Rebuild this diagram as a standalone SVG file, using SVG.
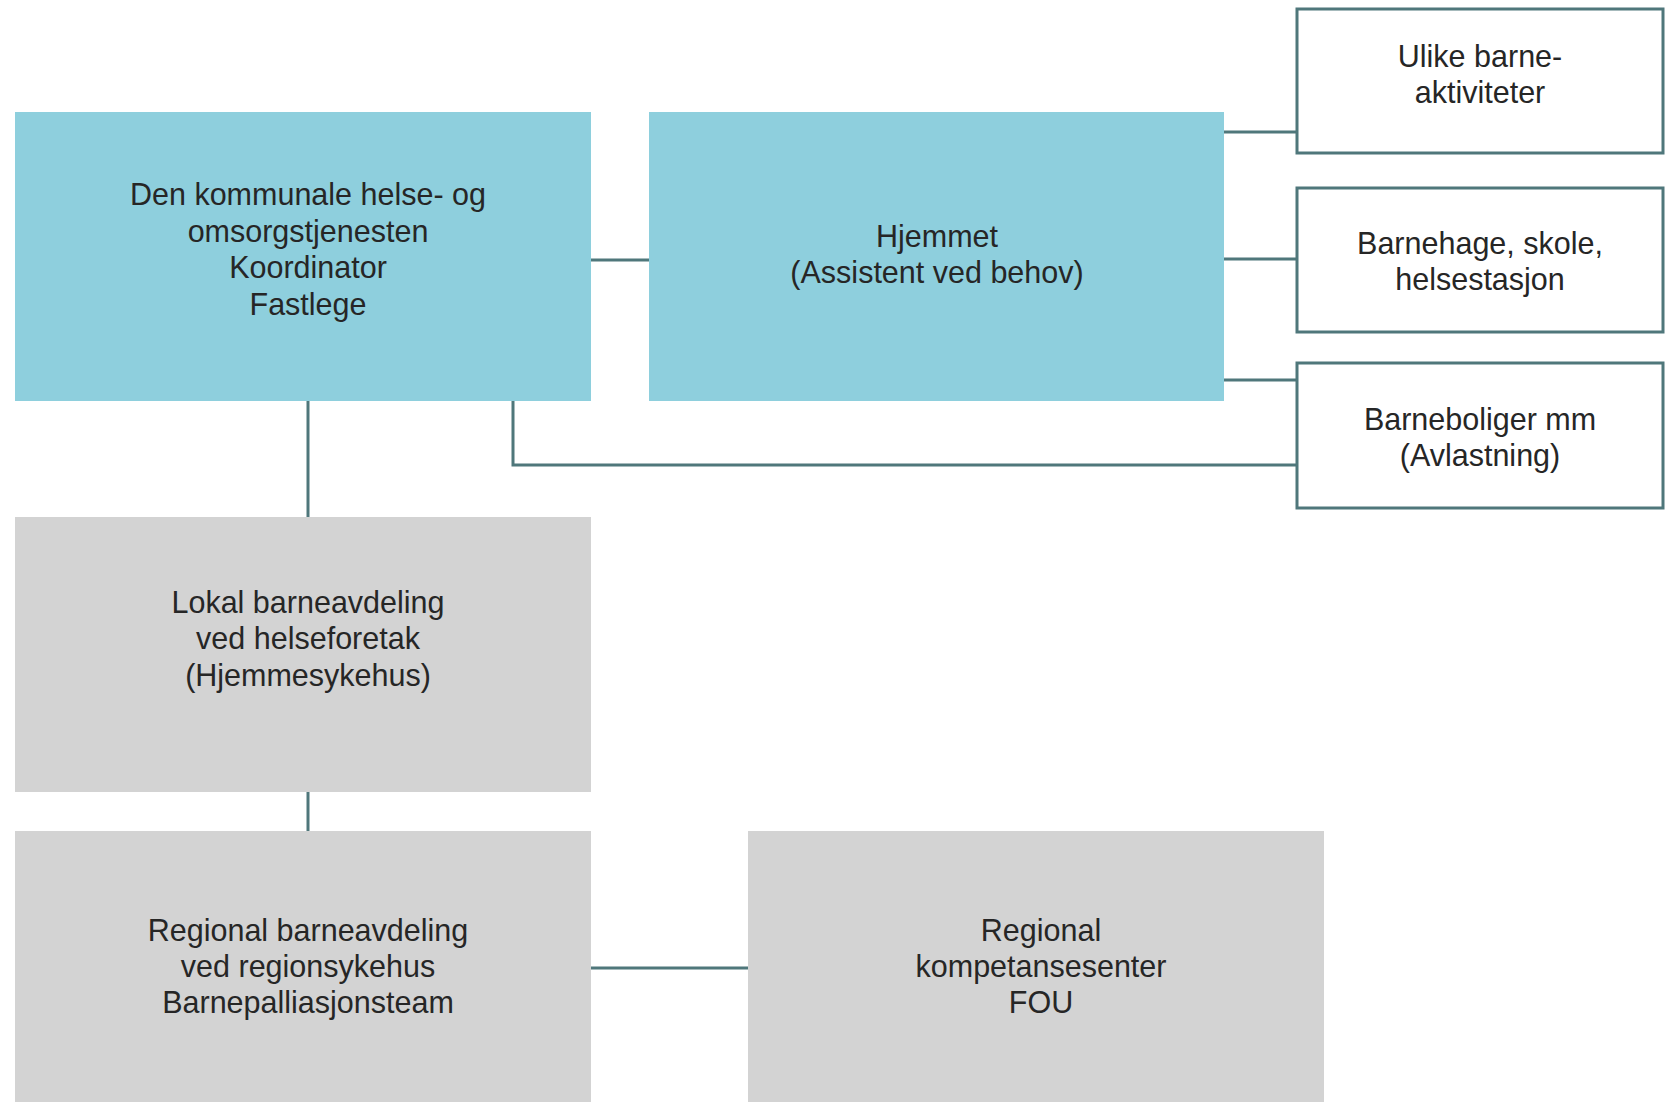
<svg xmlns="http://www.w3.org/2000/svg" width="1667" height="1102" viewBox="0 0 1667 1102">
<style>
.teal{fill:#8ecfdd}
.gray{fill:#d3d3d3}
.white{fill:#ffffff;stroke:#4f777b;stroke-width:3}
.conn{fill:none;stroke:#4f777b;stroke-width:3}
text{font-family:"Liberation Sans",Arial,sans-serif;font-size:30.5px;fill:#262626;text-anchor:middle}
</style>
<rect width="1667" height="1102" fill="#ffffff"/>
<g id="connectors">
<line class="conn" x1="591" y1="260" x2="649" y2="260"/>
<line class="conn" x1="1224" y1="132" x2="1297" y2="132"/>
<line class="conn" x1="1224" y1="259" x2="1297" y2="259"/>
<line class="conn" x1="1224" y1="380" x2="1297" y2="380"/>
<polyline class="conn" points="513,401 513,465 1297,465"/>
<line class="conn" x1="308" y1="401" x2="308" y2="517"/>
<line class="conn" x1="308" y1="792" x2="308" y2="831"/>
<line class="conn" x1="591" y1="968" x2="748" y2="968"/>
</g>
<g id="node-kommunal">
<rect class="teal" x="15" y="112" width="576" height="289"/>
<text x="308" y="205">Den kommunale helse- og</text>
<text x="308" y="242">omsorgstjenesten</text>
<text x="308" y="278">Koordinator</text>
<text x="308" y="315">Fastlege</text>
</g>
<g id="node-hjemmet">
<rect class="teal" x="649" y="112" width="575" height="289"/>
<text x="937" y="247">Hjemmet</text>
<text x="937" y="283">(Assistent ved behov)</text>
</g>
<g id="node-aktiviteter">
<rect class="white" x="1297" y="9" width="366" height="144"/>
<text x="1480" y="67">Ulike barne-</text>
<text x="1480" y="103">aktiviteter</text>
</g>
<g id="node-barnehage">
<rect class="white" x="1297" y="188" width="366" height="144"/>
<text x="1480" y="254">Barnehage, skole,</text>
<text x="1480" y="290">helsestasjon</text>
</g>
<g id="node-barneboliger">
<rect class="white" x="1297" y="363" width="366" height="145"/>
<text x="1480" y="430">Barneboliger mm</text>
<text x="1480" y="466">(Avlastning)</text>
</g>
<g id="node-lokal">
<rect class="gray" x="15" y="517" width="576" height="275"/>
<text x="308" y="613">Lokal barneavdeling</text>
<text x="308" y="649">ved helseforetak</text>
<text x="308" y="686">(Hjemmesykehus)</text>
</g>
<g id="node-regional">
<rect class="gray" x="15" y="831" width="576" height="271"/>
<text x="308" y="941">Regional barneavdeling</text>
<text x="308" y="977">ved regionsykehus</text>
<text x="308" y="1013">Barnepalliasjonsteam</text>
</g>
<g id="node-kompetanse">
<rect class="gray" x="748" y="831" width="576" height="271"/>
<text x="1041" y="941">Regional</text>
<text x="1041" y="977">kompetansesenter</text>
<text x="1041" y="1013">FOU</text>
</g>
</svg>
